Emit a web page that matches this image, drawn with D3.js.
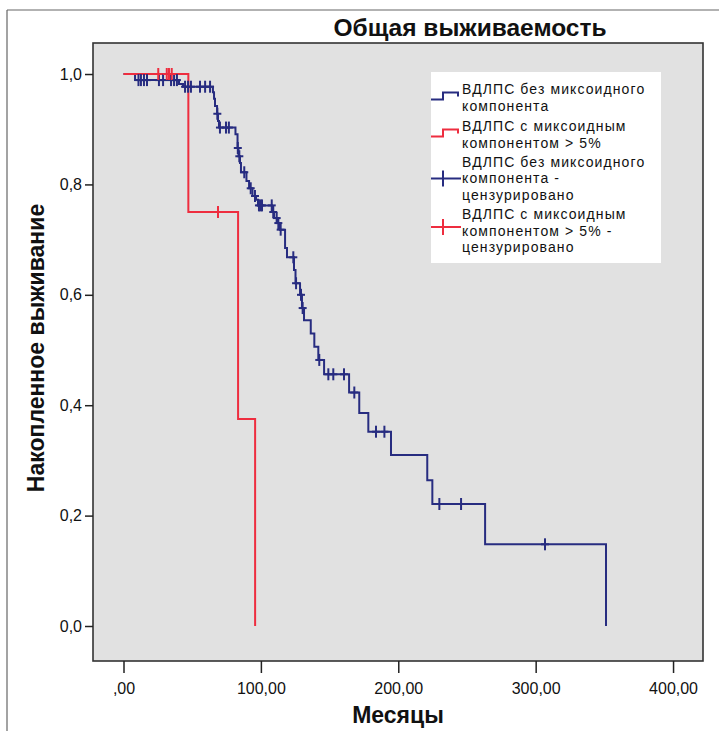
<!DOCTYPE html>
<html><head><meta charset="utf-8">
<script src="https://cdn.jsdelivr.net/npm/d3@7/dist/d3.min.js"></script>
<style>body{margin:0;background:#fff}svg{display:block}text{font-family:"Liberation Sans",Arial,sans-serif}</style>
</head><body>
<svg id="chart" width="719" height="731"></svg>
<script>
// ---- data ----
const blueEventTimes = [8.4, 40.4, 43.3, 65.1, 65.9, 66.6, 68.1, 68.8, 69.5, 81.5, 83.0, 83.7, 84.8, 85.5, 89.5, 91.4, 93.9, 96.5, 97.9, 108.1, 109.6, 111.7, 113.9, 117.6, 119.0, 124.1, 125.2, 128.5, 129.9, 131.4, 136.3, 138.9, 141.8, 146.0, 164.2, 171.6, 178.2, 194.7, 221.1, 224.8, 263.2, 351.2];
const blueEventSurv  = [0.989, 0.982, 0.977, 0.967, 0.955, 0.942, 0.928, 0.915, 0.903, 0.891, 0.866, 0.851, 0.839, 0.822, 0.806, 0.793, 0.779, 0.772, 0.762, 0.750, 0.739, 0.730, 0.718, 0.685, 0.668, 0.645, 0.621, 0.600, 0.576, 0.554, 0.530, 0.506, 0.482, 0.456, 0.423, 0.386, 0.352, 0.310, 0.264, 0.221, 0.148, 0.0];
const blueCensorTimes = [10.9, 12.7, 14.9, 17.1, 25.8, 28.8, 34.6, 36.8, 38.9, 44.8, 47.0, 49.1, 55.7, 59.4, 63.0, 68.3, 70.2, 74.6, 76.7, 83.2, 84.3, 87.9, 92.6, 95.7, 98.6, 99.7, 100.8, 107.9, 109.0, 111.5, 112.7, 114.4, 123.6, 125.6, 129.2, 130.4, 142.5, 149.1, 152.7, 160.5, 168.0, 183.8, 189.9, 229.9, 245.7, 306.8];
const redEventTimes = [47.2, 83.4, 95.8];
const redEventSurv  = [0.75, 0.375, 0.0];
const redCensorTimes = [25.3, 31.5, 33.1, 35.1, 68.8];
const xTicks = [0, 100, 200, 300, 400];
const xTickLabels = [",00", "100,00", "200,00", "300,00", "400,00"];
const yTicks = [0, 0.2, 0.4, 0.6, 0.8, 1.0];
const yTickLabels = ["0,0", "0,2", "0,4", "0,6", "0,8", "1,0"];
const legendItems = [
  ["ВДЛПС без миксоидного", "компонента"],
  ["ВДЛПС с миксоидным", "компонентом > 5%"],
  ["ВДЛПС без миксоидного", "компонента -", "цензурировано"],
  ["ВДЛПС с миксоидным", "компонентом > 5% -", "цензурировано"]
];
const title = "Общая выживаемость";
const xLabel = "Месяцы";
const yLabel = "Накопленное выживание";

// ---- layout ----
const BLUE = "#272c80", RED = "#ee2d3f";
const P = {l: 93, r: 703, t: 43, b: 661};
const svg = d3.select("#chart");
const x = d3.scaleLinear().domain([-22.2, 421.8]).range([P.l, P.r]);
const y = d3.scaleLinear().domain([-0.0634, 1.0562]).range([P.b, P.t]);

// outer frame
svg.append("line").attr("x1", 7).attr("x2", 7).attr("y1", 10).attr("y2", 731).attr("stroke", "#666").attr("stroke-width", 1.2);
svg.append("line").attr("x1", 7).attr("x2", 719).attr("y1", 10).attr("y2", 10).attr("stroke", "#666").attr("stroke-width", 1.2);

// panel
svg.append("rect").attr("x", P.l).attr("y", P.t).attr("width", P.r - P.l).attr("height", P.b - P.t)
  .attr("fill", "#e1e1e1").attr("stroke", "#333").attr("stroke-width", 1.6);

// axes
const xAxis = d3.axisBottom(x).tickValues(xTicks).tickFormat((d, i) => xTickLabels[i]).tickSize(12).tickPadding(10);
const gx = svg.append("g").attr("transform", `translate(0,${P.b})`).call(xAxis);
gx.select(".domain").remove();
gx.selectAll("line").attr("stroke", "#222").attr("stroke-width", 1.5);
gx.selectAll("text").attr("font-size", 16).attr("fill", "#111").attr("font-family", "Liberation Sans, Arial");

const yAxis = d3.axisLeft(y).tickValues(yTicks).tickFormat((d, i) => yTickLabels[i]).tickSize(8).tickPadding(3);
const gy = svg.append("g").attr("transform", `translate(${P.l},0)`).call(yAxis);
gy.select(".domain").remove();
gy.selectAll("line").attr("stroke", "#222").attr("stroke-width", 1.5);
gy.selectAll("text").attr("font-size", 16).attr("fill", "#111").attr("font-family", "Liberation Sans, Arial");

// step curves
function steps(times, surv) {
  const pts = [[0, 1]];
  times.forEach((t, i) => pts.push([t, surv[i]]));
  return pts;
}
function survAt(t, times, surv) {
  let s = 1;
  times.forEach((tt, i) => { if (tt <= t) s = surv[i]; });
  return s;
}
const line = d3.line().x(d => x(d[0])).y(d => y(d[1])).curve(d3.curveStepAfter);
svg.append("path").datum(steps(blueEventTimes, blueEventSurv)).attr("d", line)
  .attr("fill", "none").attr("stroke", BLUE).attr("stroke-width", 2);
svg.append("path").datum(steps(redEventTimes, redEventSurv)).attr("d", line)
  .attr("fill", "none").attr("stroke", RED).attr("stroke-width", 2);

function censors(times, evT, evS, color) {
  const g = svg.append("g").attr("stroke", color).attr("stroke-width", 2);
  times.forEach(t => {
    const cx = x(t), cy = y(survAt(t, evT, evS));
    g.append("line").attr("x1", cx).attr("x2", cx).attr("y1", cy - 6).attr("y2", cy + 6);
    g.append("line").attr("x1", cx - 4).attr("x2", cx + 4).attr("y1", cy).attr("y2", cy);
  });
}
censors(blueCensorTimes, blueEventTimes, blueEventSurv, BLUE);
censors(redCensorTimes, redEventTimes, redEventSurv, RED);

// legend
const L = {x: 431, y: 72, w: 230, h: 191};
svg.append("rect").attr("x", L.x).attr("y", L.y).attr("width", L.w).attr("height", L.h).attr("fill", "#fff");
const lineYs = [[94, 110.5], [131, 147.5], [166.5, 183, 199.5], [219, 235.5, 252]];
legendItems.forEach((item, i) => {
  item.forEach((txt, j) => {
    svg.append("text").attr("x", 462).attr("y", lineYs[i][j]).attr("font-size", 14)
      .attr("letter-spacing", 1.1).attr("fill", "#111").text(txt);
  });
});
const stepSym = (yl, col) => svg.append("path")
  .attr("d", `M431,${yl} H443 V${yl - 7} H458 V${yl - 3}`)
  .attr("fill", "none").attr("stroke", col).attr("stroke-width", 2);
stepSym(99.5, BLUE);
stepSym(136.5, RED);
const crossSym = (yc, col) => {
  svg.append("line").attr("x1", 431).attr("x2", 461).attr("y1", yc).attr("y2", yc).attr("stroke", col).attr("stroke-width", 2);
  svg.append("line").attr("x1", 443).attr("x2", 443).attr("y1", yc - 8).attr("y2", yc + 8).attr("stroke", col).attr("stroke-width", 2);
};
crossSym(178.5, BLUE);
crossSym(227, RED);

// titles
svg.append("text").attr("x", 470).attr("y", 36).attr("text-anchor", "middle")
  .attr("font-size", 24.5).attr("font-weight", "bold").attr("fill", "#111").text(title);
svg.append("text").attr("x", 398).attr("y", 723).attr("text-anchor", "middle")
  .attr("font-size", 23).attr("font-weight", "bold").attr("fill", "#111").text(xLabel);
svg.append("text").attr("transform", "translate(44,348) rotate(-90)").attr("text-anchor", "middle")
  .attr("font-size", 23).attr("font-weight", "bold").attr("fill", "#111").text(yLabel);
</script>
</body></html>
